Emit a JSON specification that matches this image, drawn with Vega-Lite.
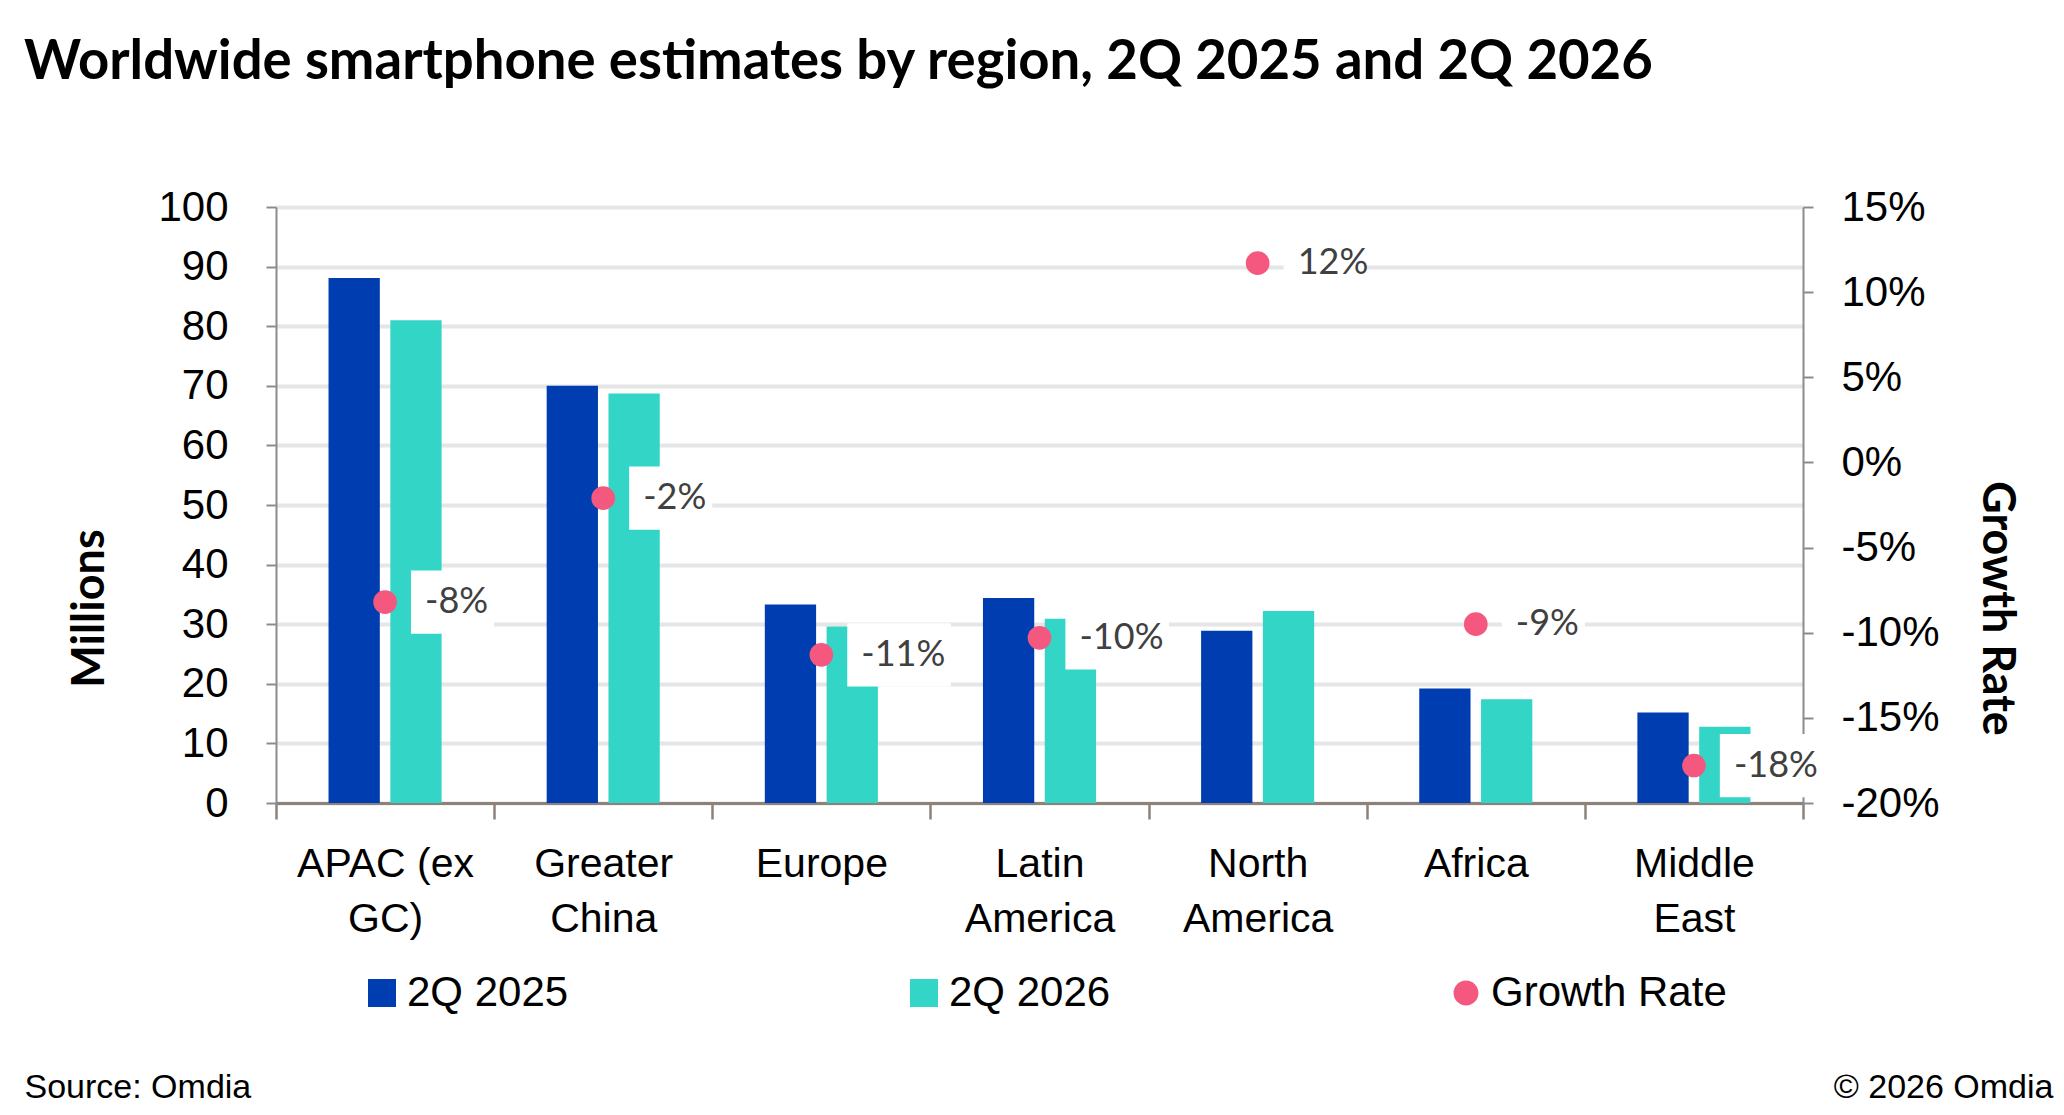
{
  "$schema": "https://vega.github.io/schema/vega-lite/v6.json",
  "width": 1527,
  "height": 596,
  "autosize": {"type": "none"},
  "padding": {"left": 276, "top": 207, "right": 261, "bottom": 312},
  "background": "white",
  "title": {
    "text": "Worldwide smartphone estimates by region, 2Q 2025 and 2Q 2026",
    "anchor": "start",
    "frame": "group",
    "dx": -252,
    "offset": 96,
    "font": "Lato",
    "fontSize": 54.5,
    "fontWeight": "bold",
    "color": "black"
  },
  "datasets": {
    "bars": [
      {"region": "APAC (ex GC)", "series": "2Q 2025", "value": 88.1},
      {"region": "APAC (ex GC)", "series": "2Q 2026", "value": 81.0},
      {"region": "Greater China", "series": "2Q 2025", "value": 70.0},
      {"region": "Greater China", "series": "2Q 2026", "value": 68.7},
      {"region": "Europe", "series": "2Q 2025", "value": 33.3},
      {"region": "Europe", "series": "2Q 2026", "value": 29.6},
      {"region": "Latin America", "series": "2Q 2025", "value": 34.4},
      {"region": "Latin America", "series": "2Q 2026", "value": 30.9},
      {"region": "North America", "series": "2Q 2025", "value": 28.9},
      {"region": "North America", "series": "2Q 2026", "value": 32.2},
      {"region": "Africa", "series": "2Q 2025", "value": 19.2},
      {"region": "Africa", "series": "2Q 2026", "value": 17.4},
      {"region": "Middle East", "series": "2Q 2025", "value": 15.2},
      {"region": "Middle East", "series": "2Q 2026", "value": 12.8}
    ],
    "growth": [
      {"region": "APAC (ex GC)", "growth": -8.2, "label": "-8%"},
      {"region": "Greater China", "growth": -2.1, "label": "-2%"},
      {"region": "Europe", "growth": -11.3, "label": "-11%"},
      {"region": "Latin America", "growth": -10.3, "label": "-10%"},
      {"region": "North America", "growth": 11.7, "label": "12%"},
      {"region": "Africa", "growth": -9.5, "label": "-9%"},
      {"region": "Middle East", "growth": -17.8, "label": "-18%"}
    ]
  },
  "layer": [
    {
      "data": {"name": "bars"},
      "mark": {"type": "bar"},
      "encoding": {
        "x": {
          "field": "region",
          "type": "nominal",
          "sort": null,
          "scale": {"paddingInner": 0, "paddingOuter": 0},
          "axis": {
            "orient": "bottom",
            "tickBand": "extent",
            "tickSize": 16,
            "tickWidth": 2.5,
            "tickColor": "#8c8279",
            "domainColor": "#8c8279",
            "domainWidth": 3,
            "labelAngle": 0,
            "labelFont": "Liberation Sans",
            "labelFontSize": 41,
            "labelColor": "black",
            "labelLineHeight": 55,
            "labelPadding": 25,
            "labelLimit": 400,
            "labelBaseline": "top",
            "labelExpr": "datum.label == 'APAC (ex GC)' ? ['APAC (ex', 'GC)'] : split(datum.label, ' ')",
            "grid": false,
            "title": "Source: Omdia",
            "titleX": -252,
            "titleY": 294,
            "titleAlign": "left",
            "titleAnchor": null,
            "titleBaseline": "alphabetic",
            "titleFont": "Liberation Sans",
            "titleFontSize": 34,
            "titleFontWeight": "normal",
            "titleColor": "black"
          }
        },
        "xOffset": {
          "field": "series",
          "type": "nominal",
          "scale": {"paddingInner": 0.17, "paddingOuter": 0.85}
        },
        "y": {
          "field": "value",
          "type": "quantitative",
          "scale": {"domain": [0, 100], "nice": false},
          "axis": {
            "orient": "left",
            "values": [0, 10, 20, 30, 40, 50, 60, 70, 80, 90, 100],
            "tickSize": 10,
            "tickWidth": 2,
            "tickColor": "#8c8c8c",
            "domainColor": "#8c8c8c",
            "domainWidth": 2,
            "grid": true,
            "gridColor": "#e6e6e6",
            "gridWidth": 4,
            "labelFont": "Liberation Sans",
            "labelFontSize": 42,
            "labelColor": "black",
            "labelPadding": 38,
            "title": "Millions",
            "titleFont": "Lato",
            "titleFontSize": 45,
            "titleFontWeight": "bold",
            "titleColor": "black",
            "titleAngle": -90,
            "titleX": -187,
            "titleY": 401,
            "titleAlign": "center",
            "titleBaseline": "middle"
          }
        },
        "color": {
          "field": "series",
          "type": "nominal",
          "scale": {
            "domain": ["2Q 2025", "2Q 2026", "Growth Rate"],
            "range": ["#003DB0", "#33D6C6", "#F5587E"]
          },
          "legend": {
            "orient": "none",
            "legendX": 85,
            "legendY": 765,
            "direction": "horizontal",
            "columns": 3,
            "gridAlign": "all",
            "columnPadding": 260,
            "title": null,
            "symbolType": "square",
            "symbolSize": 784,
            "symbolStrokeWidth": 0,
            "labelFont": "Liberation Sans",
            "labelFontSize": 42,
            "labelColor": "black",
            "labelOffset": 4,
            "labelLimit": 400,
            "encode": {
              "symbols": {
                "update": {
                  "shape": {"signal": "datum.value == 'Growth Rate' ? 'circle' : 'square'"},
                  "size": {"signal": "datum.value == 'Growth Rate' ? 620 : 784"}
                }
              }
            }
          }
        }
      }
    },
    {
      "data": {"name": "growth"},
      "encoding": {
        "x": {
          "field": "region",
          "type": "nominal",
          "sort": null,
          "axis": {
            "orient": "bottom",
            "labels": false,
            "ticks": false,
            "domain": false,
            "grid": false,
            "title": "© 2026 Omdia",
            "titleX": 1777,
            "titleY": 294,
            "titleAlign": "right",
            "titleAnchor": null,
            "titleBaseline": "alphabetic",
            "titleFont": "Liberation Sans",
            "titleFontSize": 34,
            "titleFontWeight": "normal",
            "titleColor": "black"
          }
        },
        "y": {
          "field": "growth",
          "type": "quantitative",
          "scale": {"domain": [-20, 15], "nice": false},
          "axis": {
            "orient": "right",
            "values": [-20, -15, -10, -5, 0, 5, 10, 15],
            "labelExpr": "datum.value + '%'",
            "tickSize": 10,
            "tickWidth": 2,
            "tickColor": "#8c8c8c",
            "domainColor": "#8c8c8c",
            "domainWidth": 2,
            "grid": false,
            "labelFont": "Liberation Sans",
            "labelFontSize": 42,
            "labelColor": "black",
            "labelPadding": 28,
            "title": "Growth Rate",
            "titleFont": "Lato",
            "titleFontSize": 45,
            "titleFontWeight": "bold",
            "titleColor": "black",
            "titleAngle": 90,
            "titleX": 193,
            "titleY": 401,
            "titleAlign": "center",
            "titleBaseline": "middle"
          }
        }
      },
      "layer": [
        {
          "mark": {"type": "point", "filled": true, "color": "white", "opacity": 1, "size": 3994, "strokeWidth": 0},
          "encoding": {
            "shape": {
              "condition": {"test": "length(datum.label) > 3", "value": "M0.82,-1H4.1V1H0.82Z"},
              "value": "M0.82,-1H3.45V1H0.82Z"
            }
          }
        },
        {
          "mark": {"type": "point", "filled": true, "opacity": 1, "size": 560, "strokeWidth": 0},
          "encoding": {
            "color": {"datum": "Growth Rate"}
          }
        },
        {
          "mark": {"type": "text", "align": "left", "baseline": "middle", "dx": 40, "font": "Lato", "fontSize": 36, "color": "#404040"},
          "encoding": {
            "text": {"field": "label"}
          }
        }
      ]
    }
  ],
  "resolve": {"scale": {"y": "independent"}, "axis": {"x": "independent"}},
  "config": {"view": {"stroke": null}}
}
